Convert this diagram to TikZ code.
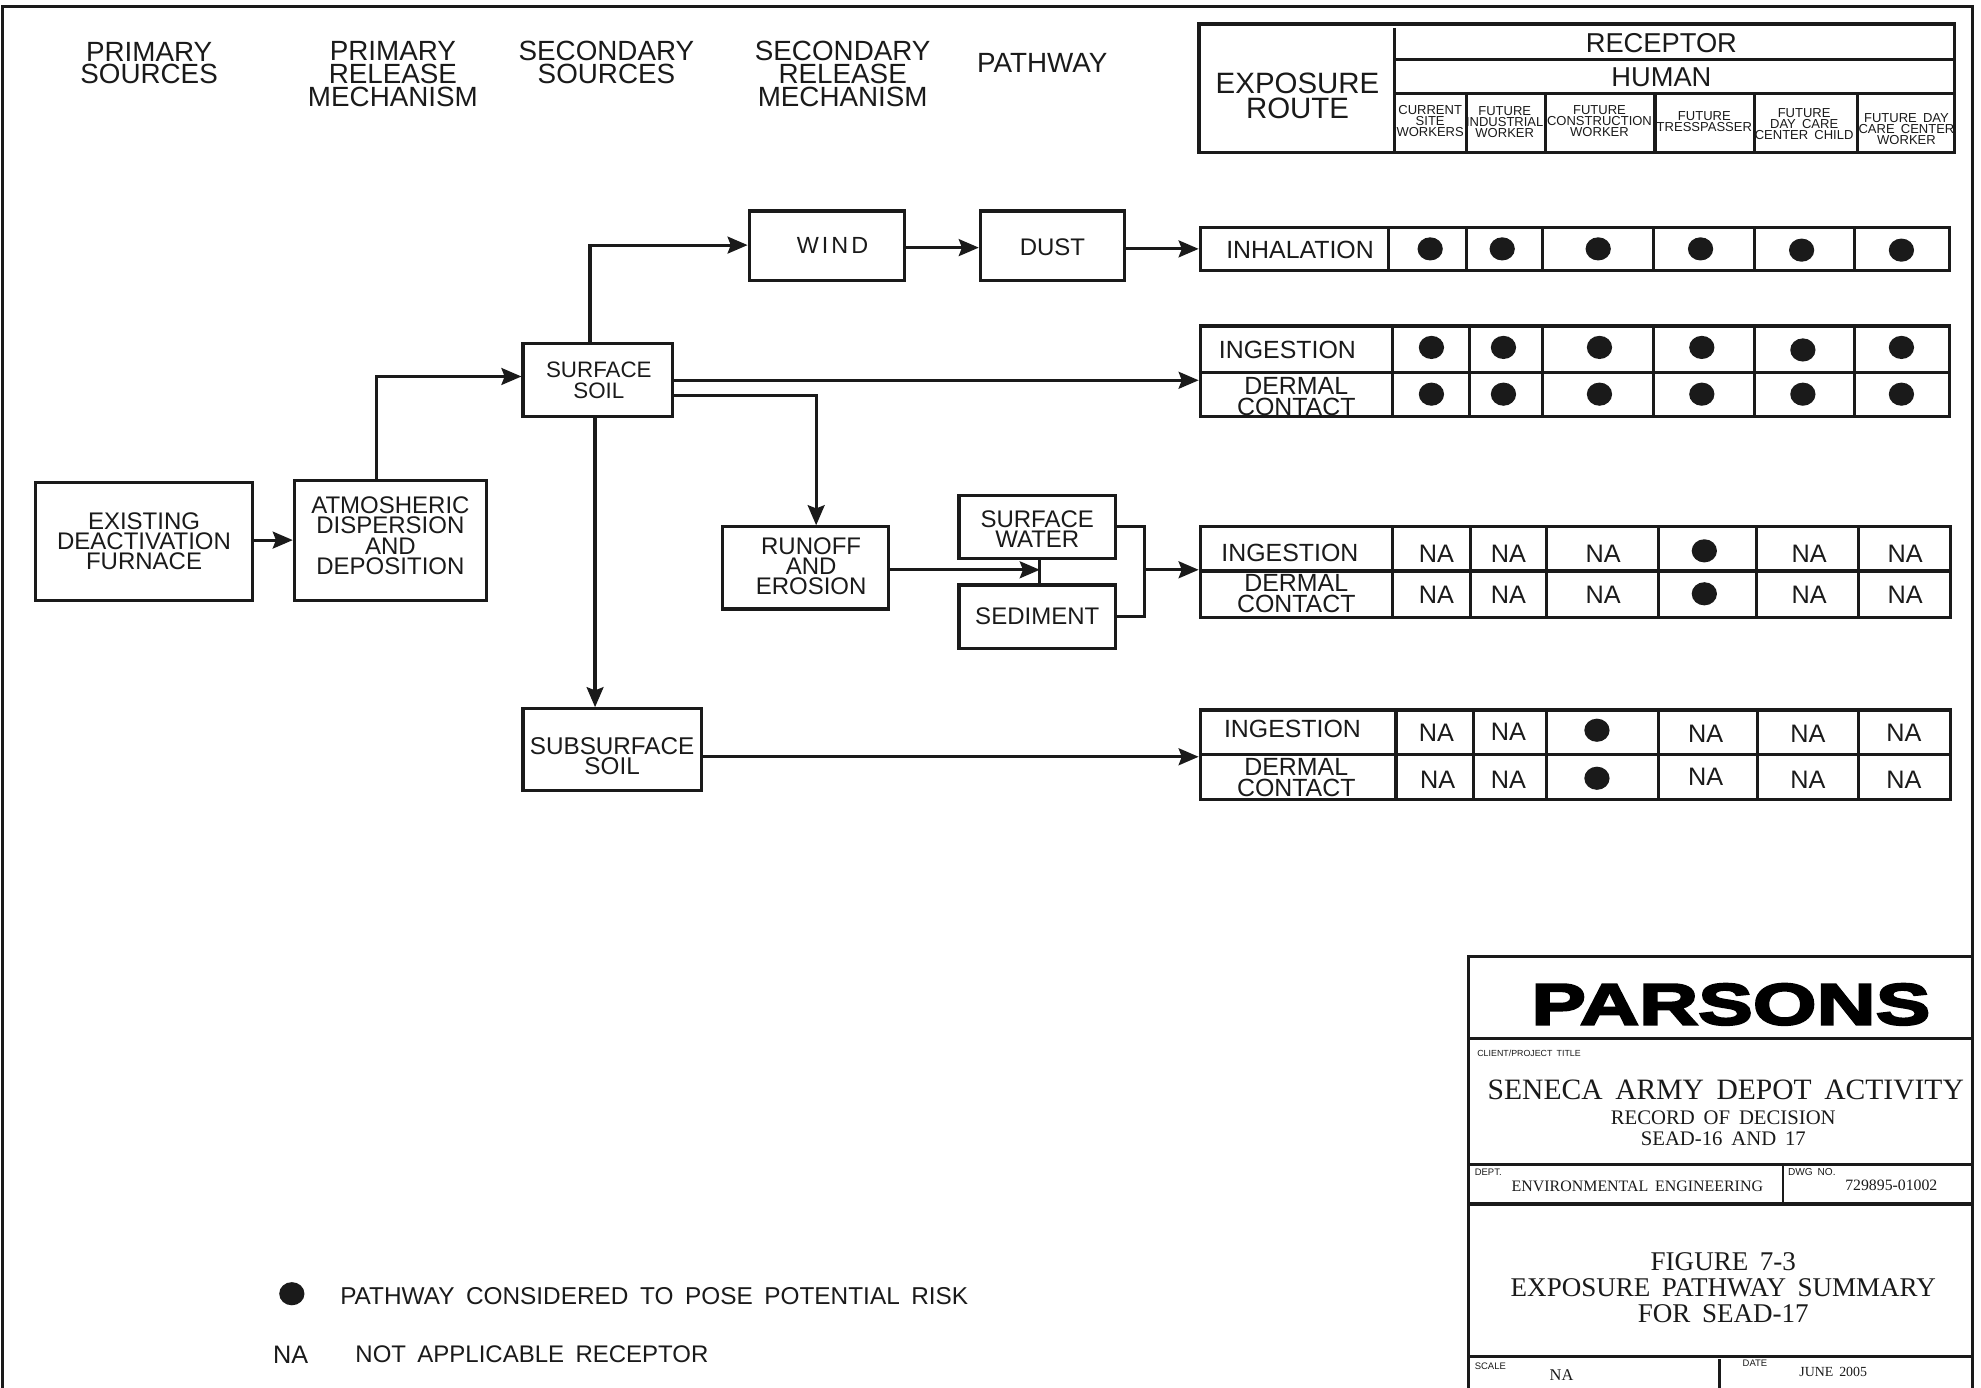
\documentclass[tikz,border=0pt]{standalone}
\usepackage{fontspec}
\setmainfont[WordSpace=1.7]{Liberation Sans}
\newfontfamily\serifx[WordSpace=1.7]{Liberation Serif}
\newfontfamily\logofont[FakeStretch=1.41,FakeBold=4,BoldFont={Liberation Sans Bold}]{Liberation Sans Bold}
\usetikzlibrary{arrows.meta,shapes.geometric}
\definecolor{ink}{HTML}{1A1A1A}
\newcommand\fs[2]{\fontsize{\the\dimexpr #1pt*6/10\relax}{\the\dimexpr #2pt*6/10\relax}\selectfont}
\newcommand\bxx[7][]{%
  \pgfmathsetmacro\bxcx{(#3+#5)/2}\pgfmathsetmacro\bxcy{(#4+#6)/2}%
  \pgfmathsetmacro\bxw{(#5-#3)*0.6}\pgfmathsetmacro\bxh{(#6-#4)*0.6}%
  \node[boxn,#1,minimum width=\bxw pt,minimum height=\bxh pt] (#2) at (\bxcx,\bxcy) {#7};}
\tikzset{
  boxn/.style={draw=ink,line width=1.5pt,inner sep=0pt,align=center,text=ink,font=\fs{19}{16}},
  txt/.style={inner sep=0pt,align=center,text=ink},
  hd/.style={txt,font=\fs{22}{18}},
  cell/.style={txt,font=\fs{19.7}{16.5}},
  na/.style={txt,font=\fs{20}{16}},
  tiny/.style={txt,font=\fs{10.3}{8.6}},
  dot/.style={ellipse,fill=ink,inner sep=0pt,minimum width=12pt,minimum height=11pt},
  ln/.style={draw=ink,line width=1.5pt},
  arr/.style={ln,-{Stealth[length=9.5pt,width=8pt,inset=1.5pt]}},
  sf/.style={txt,font=\serifx\fs{#1}{#1}},
  sm/.style={txt,anchor=west,font=\fs{7.5}{8}},
}
\begin{document}
\begin{tikzpicture}[x=0.6pt,y=-0.6pt,line join=miter]
\useasboundingbox (0,0) rectangle (1568,1098.6);
% frame
\coordinate (fBL) at (2,1104); \coordinate (fTL) at (2,5);
\coordinate (fTR) at (1561,5); \coordinate (fBR) at (1561,1104);
\draw[ln] (fBL) -- (fTL) -- (fTR) -- (fBR);
% column heads
\node[hd] (h1) at (118,50) {PRIMARY\\SOURCES};
\node[hd] (h2) at (311,58.5) {PRIMARY\\RELEASE\\MECHANISM};
\node[hd] (h3) at (480,49.5) {SECONDARY\\SOURCES};
\node[hd] (h4) at (667,58.5) {SECONDARY\\RELEASE\\MECHANISM};
\node[hd] (h5) at (825,50) {PATHWAY};
% flow boxes
\bxx{furn}{28}{382}{200}{475}{EXISTING\\DEACTIVATION\\FURNACE}
\bxx{atm}{233}{380}{385}{475}{ATMOSHERIC\\DISPERSION\\AND\\DEPOSITION\rule[-4.2pt]{0pt}{0pt}}
\bxx[font=\fs{17.7}{16}]{soil}{414}{272}{532}{330}{\hspace*{1.2pt}SURFACE\\\hspace*{1.2pt}SOIL}
\bxx[font={\fs{18.5}{16}\addfontfeature{LetterSpace=13}}]{wind}{593}{167}{716}{222}{\hspace*{5.4pt}WIND}
\bxx{dust}{776}{167}{890}{222}{\rule{0pt}{9.3pt}DUST}
\bxx{run}{572}{417}{703}{482}{\hspace*{5.4pt}RUNOFF\\\hspace*{5.4pt}AND\\\hspace*{5.4pt}EROSION\rule[-1.8pt]{0pt}{0pt}}
\bxx{wat}{759}{392}{883}{442}{\rule{0pt}{9.9pt}SURFACE\\WATER}
\bxx{sed}{759}{463}{883}{513}{SEDIMENT}
\bxx[font=\fs{19.2}{16}]{sub}{414}{561}{555}{626}{\rule{0pt}{14.1pt}SUBSURFACE\\SOIL}
% tables
\bxx{thead}{949}{19}{1547}{121}{}
\bxx{t1}{950}{180}{1543}{214}{}
\bxx{t2}{950}{258}{1543}{330}{}
\bxx{t3}{950}{417}{1544}{489}{}
\bxx{t4}{950}{562}{1544}{633}{}
% header grid
\foreach \xx/\ya/\yb in {1104/22/121,1161/74/121,1223/74/121,1310/74/121,1389/74/121,1470/74/121}
  \draw[ln] (\xx,\ya) -- (\xx,\yb);
\draw[ln] (1104,47) -- (thead.east |- 0,47);
\draw[ln] (1104,74) -- (thead.east |- 0,74);
\node[txt,font=\fs{23.3}{20}] (exr) at (1027,76) {EXPOSURE\\ROUTE};
\node[txt,font=\fs{21.6}{20}] (rec) at (1315,34) {RECEPTOR};
\node[txt,font=\fs{21.6}{20}] (hum) at (1315,61) {HUMAN};
\node[tiny] (c1) at (1132,96) {CURRENT\\SITE\\WORKERS};
\node[tiny] (c2) at (1191,96.5) {FUTURE\\INDUSTRIAL\\WORKER};
\node[tiny] (c3) at (1266,96) {FUTURE\\CONSTRUCTION\\WORKER};
\node[tiny] (c4) at (1349,96) {FUTURE\\TRESSPASSER};
\node[tiny] (c5) at (1428,98) {FUTURE\\DAY CARE\\CENTER CHILD};
\node[tiny] (c6) at (1509,102) {FUTURE DAY\\CARE CENTER\\WORKER};
% table grids
\foreach \xx in {1099,1161,1221,1309,1389,1468} \draw[ln] (\xx,180) -- (\xx,214);
\foreach \xx in {1102,1163,1221,1309,1389,1468} \draw[ln] (\xx,258) -- (\xx,330);
\draw[ln] (t2.west |- 0,295) -- (t2.east |- 0,295);
\foreach \xx in {1102,1164,1224,1313,1390,1471} \draw[ln] (\xx,417) -- (\xx,489);
\draw[ln] (t3.west |- 0,452) -- (t3.east |- 0,452);
\foreach \xx in {1105,1166,1224,1313,1391,1471} \draw[ln] (\xx,562) -- (\xx,633);
\draw[ln] (t4.west |- 0,597) -- (t4.east |- 0,597);
% row labels
\node[cell] (l1) at (1029,198) {INHALATION};
\node[cell] (l2) at (1019,277) {INGESTION};
\node[cell] (l3) at (1026,314) {DERMAL\\CONTACT};
\node[cell] (l4) at (1021,438) {INGESTION};
\node[cell] (l5) at (1026,469.5) {DERMAL\\CONTACT};
\node[cell] (l6) at (1023,577) {INGESTION};
\node[cell] (l7) at (1026,615.5) {DERMAL\\CONTACT};
% dots
\foreach \xx/\yy [count=\i] in {1132/197,1189/197,1265/197,1346/197,1426/198,1505/198,
  1133/275,1190/275,1266/275,1347/275,1427/277,1505/275,
  1133/312,1190/312,1266/312,1347/312,1427/312,1505/312,
  1349/436,1349/470,1264/578,1264/616}
  \node[dot] (d\i) at (\xx,\yy) {};
% NA
\foreach \xx/\yy [count=\i] in {1137/438,1194/438,1269/438,1432/438,1508/438,
  1137/471,1194/471,1269/471,1432/471,1508/471,
  1137/580,1194/579,1350/581,1431/581,1507/580,
  1138/617,1194/617,1350/615,1431/617,1507/617}
  \node[na] (n\i) at (\xx,\yy) {NA};
% connectors
\draw[arr] (furn.east |- atm.center) -- (atm.west |- atm.center);
\coordinate (a1) at (298,298);
\draw[arr] (atm.north -| a1) -- (a1) -- (soil.west |- a1);
\coordinate (s1) at (467,194);
\draw[arr] (soil.north -| s1) -- (s1) -- (wind.west |- s1);
\draw[arr] ([yshift=-0.9pt]wind.east) -- ([yshift=-0.9pt]dust.west);
\coordinate (d1) at (890,197);
\draw[arr] (d1) -- (t1.west);
\draw[arr] (soil.east) -- (soil.east -| t2.west);
\coordinate (s2) at (646,313);
\draw[arr] (soil.east |- s2) -- (s2) -- (run.north -| s2);
\coordinate (s3) at (471,330);
\draw[arr] (s3) -- (sub.north -| s3);
\coordinate (r1) at (823,451);
\draw[arr] (run.east |- r1) -- (r1);
\draw[ln] (wat.south -| r1) -- (sed.north -| r1);
\coordinate (b1) at (906,417); \coordinate (b2) at (906,488); \coordinate (b3) at (906,451);
\draw[ln] (wat.east) -- (b1) -- (b2) -- (sed.east |- b2);
\draw[arr] (b3) -- (t3.west |- b3);
\coordinate (u1) at (555,599);
\draw[arr] (u1) -- (t4.west |- u1);
% title block
\coordinate (tTL) at (1162,757); \coordinate (tTR) at (1561,757);
\coordinate (tBL) at (1162,1104); \coordinate (tBR) at (1561,1104);
\draw[ln] (tBL) -- (tTL) -- (tTR);
\foreach \yy in {822,922,953,1074} \draw[ln] (tBL |- 0,\yy) -- (tBR |- 0,\yy);
\draw[ln,line width=0.9pt] (1411,922) -- (1411,953);
\draw[ln] (1361,1076) -- (1361,1104);
\node[txt,text=black,font=\logofont\fs{46}{46}] (logo) at (1370,795) {PARSONS};
\node[sm,font=\fs{7}{8}] (ct) at (1169,834) {CLIENT/PROJECT TITLE};
\node[sf=23.4] (p1) at (1366,863) {SENECA ARMY DEPOT ACTIVITY};
\node[sf=16.4] (p2) at (1364,885) {RECORD OF DECISION};
\node[sf=16.4] (p3) at (1364,901) {SEAD-16 AND 17};
\node[sm] (dp) at (1167,928) {DEPT.};
\node[sf=12.6] (dv) at (1296,939) {ENVIRONMENTAL ENGINEERING};
\node[sm,font=\fs{8}{8}] (dw) at (1415,928) {DWG NO.};
\node[sf=12.5] (dn) at (1497,938) {729895-01002};
\node[sf=21.4] (f1) at (1364,999) {FIGURE 7-3};
\node[sf=21.4] (f2) at (1364,1019) {EXPOSURE PATHWAY SUMMARY};
\node[sf=21.4] (f3) at (1364,1040) {FOR SEAD-17};
\node[sm] (sc) at (1167,1081) {SCALE};
\node[sf=13] (sv) at (1236,1088) {NA};
\node[sm] (dt) at (1379,1079) {DATE};
\node[sf=11] (dd) at (1451,1086) {JUNE 2005};
% legend
\node[dot] (lg1) at (231,1024) {};
\node[txt,anchor=west,font=\fs{19.3}{19}] (lg2) at (269,1026) {PATHWAY CONSIDERED TO POSE POTENTIAL RISK};
\node[na] (lg3) at (230,1072) {NA};
\node[txt,anchor=west,font=\fs{19}{19}] (lg4) at (281,1072) {NOT APPLICABLE RECEPTOR};
\end{tikzpicture}
\end{document}
